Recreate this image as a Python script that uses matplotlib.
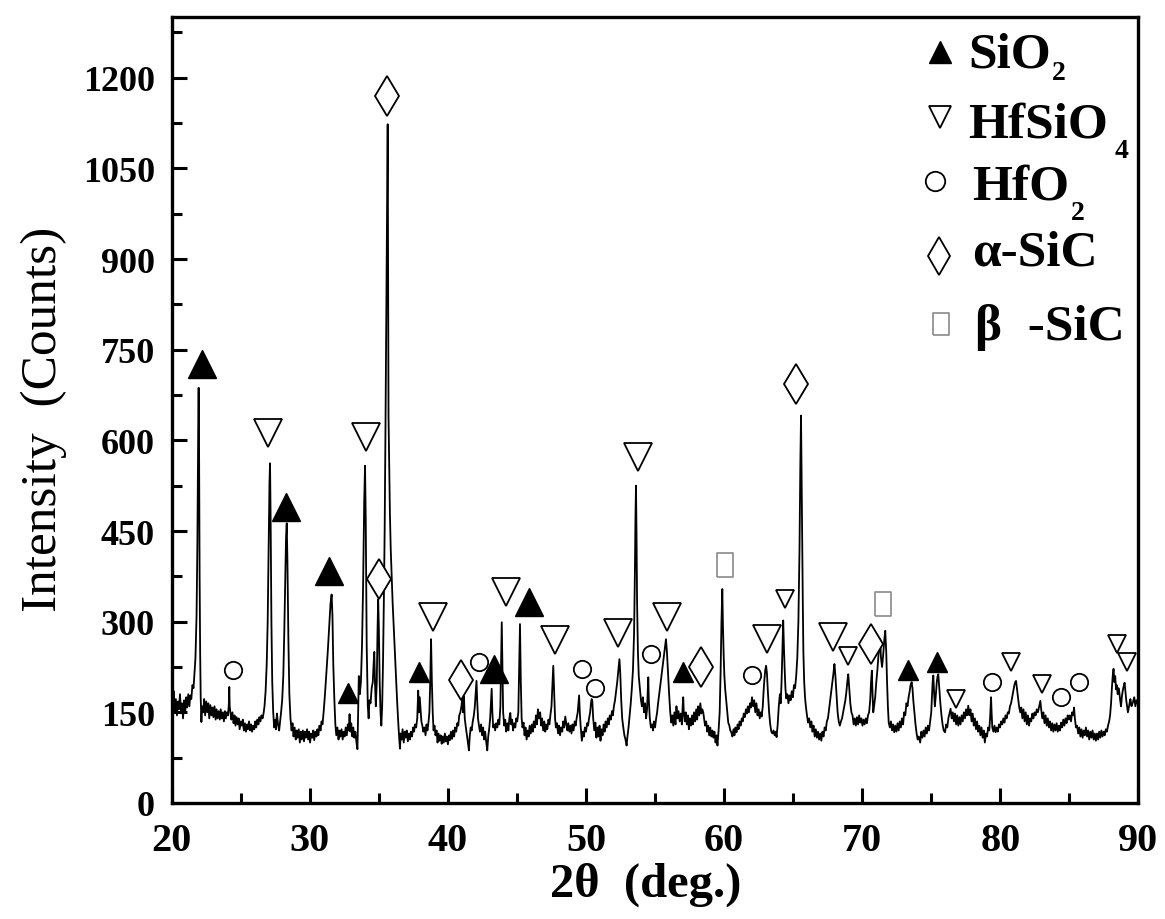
import matplotlib
matplotlib.use("Agg")
import matplotlib.pyplot as plt
from matplotlib.ticker import MultipleLocator

# XRD scan (2theta in deg., intensity in counts)
two_theta = [
    20.00, 20.08, 20.15, 20.22, 20.30, 20.38, 20.45, 20.52, 20.60, 20.68, 20.75, 20.82, 20.90, 20.98,
    21.05, 21.12, 21.20, 21.28, 21.35, 21.42, 21.50, 21.58, 21.65, 21.72, 21.80, 21.86, 21.92, 21.95, 21.98, 22.02, 22.06, 22.10, 22.15,
    22.20, 22.28, 22.35, 22.42, 22.50, 22.58, 22.65, 22.72, 22.80, 22.88, 22.95, 23.02, 23.10, 23.18, 23.25, 23.32, 23.40, 23.48, 23.55, 23.62, 23.70, 23.78, 23.85, 23.92, 24.00, 24.08, 24.14, 24.17, 24.20, 24.26,
    24.32, 24.40, 24.48, 24.55, 24.62, 24.70, 24.78, 24.85, 24.92, 25.00, 25.08, 25.15, 25.22, 25.30, 25.38, 25.45, 25.52, 25.60, 25.68, 25.75, 25.82, 25.90, 25.98, 26.05, 26.12, 26.20, 26.28, 26.35, 26.42, 26.50, 26.58, 26.65, 26.72,
    26.80, 26.88, 26.95, 27.02, 27.08, 27.12, 27.16, 27.22, 27.28, 27.35, 27.42, 27.50, 27.55, 27.62, 27.70, 27.78, 27.85, 27.92, 28.00,
    28.08, 28.15, 28.22, 28.28, 28.33, 28.38, 28.45, 28.52, 28.60, 28.68, 28.75, 28.82, 28.90, 28.98, 29.05, 29.12, 29.20, 29.28, 29.35, 29.42, 29.50, 29.58, 29.65, 29.72, 29.80, 29.88, 29.95, 30.02,
    30.10, 30.18, 30.25, 30.32, 30.40, 30.48, 30.55, 30.62, 30.70, 30.78, 30.85, 30.92, 31.00, 31.10, 31.20, 31.30, 31.40, 31.50, 31.58, 31.64, 31.70, 31.78, 31.85, 31.92,
    32.00, 32.08, 32.15, 32.22, 32.30, 32.38, 32.45, 32.52, 32.60, 32.68, 32.75, 32.82, 32.88, 32.94, 33.00, 33.08, 33.15, 33.22, 33.30, 33.38, 33.45, 33.50,
    33.55, 33.62, 33.70, 33.78, 33.86, 33.94, 34.00, 34.05, 34.12, 34.20, 34.26, 34.32, 34.40, 34.48, 34.56, 34.62, 34.67, 34.72, 34.78, 34.85, 34.90, 34.95, 35.00, 35.06, 35.12, 35.18,
    35.24, 35.30, 35.36, 35.42, 35.48, 35.54, 35.60, 35.64, 35.67, 35.70, 35.74, 35.80, 35.86, 35.92, 36.00, 36.08, 36.16, 36.24, 36.32, 36.40, 36.48, 36.53,
    36.58, 36.65, 36.72, 36.80, 36.88, 36.95, 37.02, 37.10, 37.18, 37.25, 37.32, 37.40, 37.48, 37.55, 37.62, 37.70, 37.78, 37.85, 37.90, 37.96, 38.02, 38.08,
    38.15, 38.22, 38.30, 38.38, 38.45, 38.52, 38.60, 38.66, 38.72, 38.78, 38.84, 38.90, 38.96, 39.03, 39.10, 39.18, 39.25, 39.32, 39.40, 39.48, 39.55, 39.62, 39.70, 39.78, 39.85, 39.92, 40.00,
    40.08, 40.15, 40.22, 40.30, 40.38, 40.45, 40.52, 40.60, 40.68, 40.75, 40.82, 40.90, 40.98, 41.04, 41.10, 41.16, 41.22, 41.30, 41.38, 41.45, 41.52,
    41.58, 41.65, 41.72, 41.80, 41.88, 41.95, 42.02, 42.07, 42.12, 42.18, 42.25, 42.32, 42.40, 42.48, 42.55, 42.62, 42.70, 42.78, 42.85, 42.92, 43.00,
    43.06, 43.12, 43.17, 43.22, 43.28, 43.35, 43.42, 43.50, 43.58, 43.65, 43.72, 43.80, 43.85, 43.90, 43.95, 44.00, 44.08, 44.15, 44.22, 44.30, 44.38, 44.45, 44.52, 44.58,
    44.65, 44.72, 44.80, 44.88, 44.95, 45.02, 45.10, 45.16, 45.22, 45.28, 45.34, 45.40, 45.48, 45.55, 45.62, 45.70, 45.78, 45.85, 45.92, 46.00,
    46.08, 46.15, 46.22, 46.30, 46.38, 46.45, 46.52, 46.60, 46.68, 46.75, 46.82, 46.90, 46.98, 47.05, 47.12, 47.20, 47.28, 47.35, 47.42, 47.50,
    47.56, 47.63, 47.70, 47.76, 47.82, 47.90, 47.98, 48.05, 48.12, 48.20, 48.28, 48.35, 48.42, 48.50, 48.58, 48.65, 48.72, 48.80, 48.88, 48.95, 49.02,
    49.10, 49.18, 49.25, 49.32, 49.40, 49.45, 49.50, 49.55, 49.62, 49.70, 49.78, 49.85, 49.92, 50.00, 50.08, 50.15, 50.22, 50.30, 50.36, 50.41, 50.46, 50.52, 50.60,
    50.68, 50.75, 50.82, 50.90, 50.98, 51.05, 51.12, 51.20, 51.28, 51.35, 51.42, 51.50, 51.58, 51.65, 51.72, 51.80, 51.88, 51.95, 52.02,
    52.10, 52.18, 52.26, 52.34, 52.42, 52.48, 52.55, 52.62, 52.70, 52.78, 52.86, 52.94, 53.00, 53.08, 53.16, 53.24, 53.32, 53.40, 53.48,
    53.54, 53.58, 53.62, 53.66, 53.70, 53.76, 53.82, 53.90, 53.98, 54.05, 54.12, 54.20, 54.28, 54.35, 54.42, 54.47, 54.51, 54.55, 54.62, 54.70, 54.78, 54.85, 54.92, 55.00,
    55.08, 55.15, 55.22, 55.30, 55.38, 55.46, 55.54, 55.62, 55.70, 55.79, 55.86, 55.94, 56.02, 56.10, 56.18, 56.25, 56.32, 56.40, 56.48, 56.55, 56.62, 56.70, 56.78, 56.86, 56.94,
    57.00, 57.04, 57.08, 57.15, 57.22, 57.30, 57.38, 57.45, 57.52, 57.60, 57.68, 57.75, 57.82, 57.90, 57.98, 58.05, 58.12, 58.20, 58.28, 58.35, 58.42, 58.49,
    58.55, 58.62, 58.70, 58.78, 58.85, 58.92, 59.00, 59.08, 59.15, 59.22, 59.30, 59.38, 59.45, 59.52, 59.60, 59.68, 59.75, 59.81, 59.87, 59.92, 59.97, 60.02,
    60.08, 60.15, 60.22, 60.30, 60.38, 60.45, 60.52, 60.60, 60.68, 60.75, 60.82, 60.90, 60.98, 61.05, 61.12, 61.20, 61.28, 61.35, 61.42, 61.50, 61.58,
    61.65, 61.72, 61.80, 61.88, 61.95, 62.02, 62.10, 62.18, 62.26, 62.34, 62.42, 62.50, 62.58, 62.66, 62.72, 62.80, 62.86, 62.92, 62.98, 63.04, 63.10,
    63.18, 63.26, 63.34, 63.42, 63.50, 63.58, 63.66, 63.74, 63.80, 63.88, 63.96, 64.04, 64.10, 64.16, 64.22, 64.28, 64.33, 64.38, 64.44, 64.50,
    64.58, 64.66, 64.74, 64.82, 64.90, 64.98, 65.06, 65.14, 65.22, 65.30, 65.38, 65.46, 65.52, 65.57, 65.62, 65.66, 65.70, 65.74, 65.80, 65.86, 65.92, 66.00,
    66.08, 66.16, 66.24, 66.32, 66.40, 66.48, 66.56, 66.64, 66.72, 66.80, 66.88, 66.96, 67.04, 67.12, 67.20, 67.28, 67.36, 67.44,
    67.52, 67.60, 67.68, 67.76, 67.84, 67.92, 67.99, 68.06, 68.14, 68.22, 68.30, 68.38, 68.46, 68.54, 68.62, 68.70, 68.78, 68.86, 68.92, 68.99,
    69.06, 69.14, 69.22, 69.30, 69.38, 69.46, 69.54, 69.62, 69.70, 69.78, 69.86, 69.94, 70.02, 70.10, 70.18, 70.26, 70.34, 70.42, 70.50,
    70.58, 70.64, 70.70, 70.75, 70.80, 70.86, 70.94, 71.02, 71.10, 71.18, 71.26, 71.30, 71.36, 71.44, 71.52, 71.60, 71.67, 71.74, 71.80, 71.86, 71.92, 72.00,
    72.08, 72.16, 72.24, 72.32, 72.40, 72.48, 72.56, 72.64, 72.72, 72.80, 72.88, 72.96, 73.04, 73.12, 73.20, 73.28, 73.36, 73.44, 73.50,
    73.58, 73.64, 73.70, 73.78, 73.86, 73.94, 74.02, 74.10, 74.20, 74.28, 74.36, 74.44, 74.52, 74.60, 74.68, 74.76, 74.84, 74.92, 75.00,
    75.06, 75.10, 75.15, 75.20, 75.26, 75.32, 75.40, 75.46, 75.51, 75.58, 75.66, 75.74, 75.82, 75.90, 76.00, 76.08, 76.16, 76.24, 76.32, 76.40, 76.48,
    76.56, 76.64, 76.72, 76.80, 76.88, 76.96, 77.04, 77.12, 77.20, 77.28, 77.36, 77.44, 77.52, 77.60, 77.68, 77.76, 77.84, 77.92, 78.00,
    78.08, 78.16, 78.24, 78.32, 78.40, 78.48, 78.56, 78.64, 78.72, 78.80, 78.88, 78.96, 79.04, 79.12, 79.20, 79.26, 79.30, 79.33, 79.37, 79.42, 79.50,
    79.58, 79.66, 79.74, 79.82, 79.90, 79.98, 80.06, 80.14, 80.22, 80.30, 80.38, 80.46, 80.54, 80.62, 80.70, 80.78, 80.86, 80.94, 81.02,
    81.08, 81.14, 81.20, 81.28, 81.36, 81.44, 81.52, 81.60, 81.68, 81.76, 81.84, 81.92, 82.00, 82.08, 82.16, 82.24, 82.32, 82.40, 82.48,
    82.56, 82.64, 82.72, 82.80, 82.86, 82.90, 82.96, 83.04, 83.12, 83.20, 83.28, 83.36, 83.44, 83.52, 83.60, 83.68, 83.76, 83.84, 83.92, 84.00,
    84.08, 84.16, 84.24, 84.32, 84.40, 84.48, 84.56, 84.64, 84.72, 84.80, 84.88, 84.96, 85.04, 85.12, 85.20, 85.28, 85.34, 85.40, 85.48,
    85.56, 85.64, 85.72, 85.80, 85.88, 85.96, 86.04, 86.12, 86.20, 86.28, 86.36, 86.44, 86.52, 86.60, 86.68, 86.76, 86.84, 86.92, 87.00,
    87.08, 87.16, 87.24, 87.32, 87.40, 87.48, 87.56, 87.64, 87.72, 87.80, 87.88, 87.95, 88.02, 88.08, 88.14, 88.20, 88.26, 88.32, 88.38, 88.44,
    88.50, 88.56, 88.62, 88.68, 88.74, 88.80, 88.86, 88.92, 89.00, 89.06, 89.12, 89.18, 89.24, 89.30, 89.36, 89.42, 89.50, 89.58, 89.63, 89.70, 89.78, 89.86, 89.94, 90.00,
]
counts = [
    178, 160, 185, 150, 172, 145, 168, 155, 180, 150, 165, 140, 170, 152,
    175, 158, 180, 160, 178, 172, 195, 190, 215, 240, 310, 430, 620, 687, 600, 380, 250, 175, 134,
    160, 150, 172, 145, 168, 150, 165, 140, 162, 145, 158, 142, 160, 138, 155, 140, 152, 138, 155, 140, 150, 135, 152, 140, 150, 145, 165, 192, 160, 148,
    138, 150, 132, 145, 128, 142, 130, 140, 122, 135, 128, 138, 120, 132, 118, 130, 122, 135, 120, 130, 118, 128, 122, 135, 125, 138, 130, 142, 135, 145, 140, 148, 160,
    185, 230, 300, 420, 530, 562, 480, 300, 200, 150, 125, 138, 122, 148, 130, 120, 135, 150, 170,
    210, 280, 370, 440, 463, 400, 270, 180, 140, 120, 132, 110, 125, 105, 120, 108, 122, 100, 118, 105, 120, 102, 118, 108, 122, 105, 118, 100,
    115, 108, 120, 104, 118, 110, 122, 112, 128, 120, 135, 130, 150, 180, 215, 250, 290, 330, 345, 310, 230, 170, 130, 112,
    125, 105, 120, 110, 122, 105, 118, 110, 125, 112, 130, 120, 147, 118, 132, 110, 125, 108, 118, 100, 89, 150,
    210, 180, 200, 260, 360, 500, 558, 470, 260, 160, 140, 170, 165, 190, 200, 230, 250, 200, 160, 200, 280, 337, 290, 200, 150, 128,
    160, 230, 330, 450, 620, 820, 1000, 1123, 900, 640, 580, 480, 420, 380, 330, 290, 250, 210, 170, 135, 105, 90,
    115, 105, 122, 100, 118, 108, 120, 102, 115, 105, 118, 110, 125, 118, 130, 125, 140, 186, 150, 175, 154, 135,
    128, 118, 125, 112, 130, 120, 135, 150, 200, 271, 200, 150, 120, 128, 112, 120, 100, 115, 103, 112, 98, 110, 100, 115, 102, 110, 97,
    112, 104, 118, 106, 120, 110, 125, 118, 132, 128, 145, 150, 160, 172, 150, 177, 140, 125, 112, 100, 87,
    110, 125, 120, 135, 145, 160, 185, 202, 170, 140, 128, 118, 130, 112, 125, 105, 118, 100, 87, 110, 125,
    140, 165, 189, 150, 125, 130, 120, 132, 125, 138, 130, 160, 230, 299, 220, 150, 128, 138, 118, 132, 120, 140, 149, 130,
    138, 120, 132, 125, 140, 135, 150, 220, 296, 200, 140, 125, 133, 112, 125, 105, 120, 110, 128, 115,
    130, 118, 135, 125, 145, 130, 155, 140, 150, 128, 140, 120, 135, 118, 130, 122, 138, 130, 145, 160,
    190, 227, 180, 140, 125, 132, 115, 128, 112, 125, 118, 135, 125, 143, 130, 120, 132, 118, 128, 115, 130,
    120, 135, 128, 140, 150, 165, 178, 150, 125, 103, 118, 110, 125, 118, 132, 128, 140, 150, 165, 172, 168, 140, 120,
    133, 108, 125, 110, 128, 103, 122, 112, 130, 118, 135, 125, 140, 130, 145, 138, 152, 145, 160,
    170, 185, 200, 220, 238, 215, 170, 140, 125, 112, 105, 95, 110, 125, 145, 165, 190, 220, 280,
    380, 470, 525, 440, 330, 250, 210, 190, 170, 160, 175, 150, 165, 140, 155, 185, 208, 170, 140, 125, 130, 120, 135, 125,
    140, 150, 165, 180, 195, 210, 225, 240, 255, 271, 250, 215, 180, 150, 133, 145, 128, 150, 130, 160, 140, 152, 135, 148, 130,
    160, 175, 150, 135, 150, 130, 145, 122, 140, 128, 145, 130, 150, 135, 155, 138, 160, 145, 165, 148, 155, 150,
    140, 128, 135, 118, 128, 112, 125, 110, 120, 108, 118, 100, 112, 95, 120, 150, 220, 300, 354, 290, 244, 210,
    188, 170, 150, 133, 128, 120, 117, 110, 122, 112, 125, 117, 130, 122, 135, 128, 140, 135, 148, 142, 155,
    148, 160, 150, 165, 158, 175, 160, 170, 150, 165, 145, 155, 140, 150, 143, 160, 185, 205, 220, 227, 215,
    180, 150, 130, 118, 115, 120, 112, 118, 109, 130, 160, 180, 165, 200, 250, 302, 260, 225, 190, 173,
    180, 165, 178, 170, 185, 175, 195, 190, 210, 240, 300, 420, 560, 641, 520, 420, 330, 250, 200, 175, 160, 145,
    133, 140, 125, 135, 118, 128, 110, 122, 108, 118, 105, 115, 103, 118, 110, 125, 120, 135,
    140, 155, 170, 185, 200, 215, 230, 210, 180, 150, 135, 128, 135, 140, 150, 160, 170, 185, 200, 213,
    190, 165, 150, 145, 130, 140, 128, 142, 130, 145, 133, 140, 128, 138, 130, 140, 132, 145, 150,
    170, 200, 219, 180, 150, 160, 175, 200, 220, 245, 260, 271, 240, 225, 245, 270, 285, 250, 200, 160, 133, 125,
    135, 120, 130, 117, 128, 118, 132, 120, 135, 125, 140, 130, 150, 145, 165, 160, 175, 185, 195,
    200, 190, 170, 150, 130, 115, 105, 110, 100, 118, 108, 120, 110, 125, 115, 128, 120, 135, 150,
    180, 200, 211, 185, 160, 175, 200, 210, 213, 190, 165, 145, 130, 120, 117, 130, 125, 140, 148, 156, 140,
    150, 135, 148, 130, 145, 128, 142, 130, 145, 135, 150, 140, 155, 145, 161, 145, 155, 135, 148,
    128, 140, 122, 135, 118, 128, 112, 125, 108, 120, 100, 115, 110, 125, 120, 140, 160, 175, 150, 125, 118,
    128, 117, 125, 118, 130, 125, 135, 130, 140, 133, 145, 140, 150, 148, 160, 165, 175, 185, 195,
    200, 202, 190, 175, 160, 150, 158, 140, 155, 135, 150, 130, 145, 128, 140, 135, 148, 140, 150,
    145, 155, 150, 158, 165, 169, 155, 140, 150, 132, 145, 128, 140, 125, 135, 120, 132, 118, 130, 120,
    132, 118, 128, 120, 133, 125, 138, 128, 140, 132, 145, 138, 145, 135, 150, 145, 158, 140, 125,
    128, 115, 125, 110, 122, 108, 120, 112, 125, 110, 120, 105, 118, 108, 120, 105, 115, 103, 115,
    105, 118, 108, 120, 110, 118, 112, 122, 118, 128, 135, 145, 165, 190, 210, 222, 200, 210, 188, 195,
    180, 190, 183, 170, 160, 175, 185, 192, 199, 185, 170, 160, 150, 158, 165, 172, 160, 165, 169, 175, 160, 170, 165, 175,
]
assert len(two_theta) == len(counts)

# phase markers (2theta, height of symbol)
sio2_big_x = [22.2, 28.3, 31.4, 43.36, 45.9]
sio2_big_y = [726, 489, 384, 222, 332]
sio2_small_x = [32.8, 37.9, 57.05, 73.34, 75.44]
sio2_small_y = [182, 216, 216, 220, 233]
hfsio4_big_x = [27.0, 34.07, 38.9, 44.2, 47.76, 52.34, 53.79, 55.89, 63.08, 67.86]
hfsio4_big_y = [613, 605, 308, 349, 269, 282, 572, 307, 271, 274]
hfsio4_small_x = [64.41, 69.0, 76.8, 80.75, 83.04, 88.47, 89.15]
hfsio4_small_y = [338, 244, 172, 234, 197, 263, 233]
hfo2_x = [24.46, 42.27, 49.7, 50.65, 54.69, 62.0, 79.38, 84.4, 85.7]
hfo2_y = [220, 233, 222, 191, 246, 211, 201, 175, 200]
asic_x = [35.57, 35.0, 40.95, 58.3, 65.2, 70.64]
asic_y = [1170, 371, 204, 225, 693, 263]
bsic_x = [60.07, 71.53]
bsic_y = [393, 329]

legend_labels = ["SiO", "HfSiO", "HfO", "\u03b1-SiC", "\u03b2  -SiC"]
legend_subs = ["2", "4", "2", "", ""]

plt.rcParams["font.family"] = ["Liberation Serif", "DejaVu Serif"]
plt.rcParams["font.weight"] = "bold"

W, H = 1165, 920
fig = plt.figure(figsize=(W / 100, H / 100), dpi=100)
left, right, bottom = 171.7, 1138.4, 804.0
ytop = 1300
ax = fig.add_axes([left / W, 1 - bottom / H, (right - left) / W, ytop * 0.6044 / H])


def fpos(px, py):
    return px / W, 1 - py / H


rect = [(-0.35, -0.5), (0.35, -0.5), (0.35, 0.5), (-0.35, 0.5), (-0.35, -0.5)]

ax.plot(two_theta, counts, color="black", lw=1.3)

tri_kw = dict(ls="none", marker="^", color="black", clip_on=False)
open_kw = dict(ls="none", mfc="white", mec="black", mew=1.3, clip_on=False)
ax.plot(sio2_big_x, sio2_big_y, ms=19.5, **tri_kw)
ax.plot(sio2_small_x, sio2_small_y, ms=14.5, **tri_kw)
ax.plot(hfsio4_big_x, hfsio4_big_y, marker="v", ms=19.5, **open_kw)
ax.plot(hfsio4_small_x, hfsio4_small_y, marker="v", ms=12.5, **open_kw)
ax.plot(hfo2_x, hfo2_y, marker="o", ms=12.5, **open_kw)
ax.plot(asic_x, asic_y, marker="d", ms=20, **open_kw)
ax.plot(bsic_x, bsic_y, ls="none", marker=rect, ms=17, mfc="white", mec="#8a8a8a", mew=1.2)

ax.set_xlim(20, 90)
ax.set_ylim(0, ytop)
ax.xaxis.set_major_locator(MultipleLocator(10))
ax.xaxis.set_minor_locator(MultipleLocator(5))
ax.yaxis.set_major_locator(MultipleLocator(150))
ax.yaxis.set_minor_locator(MultipleLocator(75))
ax.tick_params(which="both", direction="in", top=False, right=False, width=2.2)
ax.tick_params(which="major", length=11)
ax.tick_params(which="minor", length=7)
ax.tick_params(axis="y", pad=12, labelsize=26)
ax.tick_params(axis="x", pad=14, labelsize=29)
for s in ax.spines.values():
    s.set_linewidth(2.4)

ax.set_xlabel("2\u03b8  (deg.)", fontsize=35, weight="bold")
ax.xaxis.set_label_coords(0.49, -0.075)
ax.set_ylabel("Intensity  (Counts)", fontsize=37, weight="normal")
ax.yaxis.set_label_coords(-0.108, 0.49)

# legend drawn by hand
marker_pos = [(940, 53), (940, 118), (935, 182), (939, 257), (941, 325)]
text_pos = [(968, 67), (968, 137), (972, 200), (972, 266), (975, 340)]
sub_pos = [(1052, 80), (1115, 158), (1071, 220), None, None]
mk = [
    dict(marker="^", ms=16, mfc="black", mec="black"),
    dict(marker="v", ms=16, mfc="white", mec="black", mew=1.3),
    dict(marker="o", ms=14, mfc="white", mec="black", mew=1.3),
    dict(marker="d", ms=19, mfc="white", mec="black", mew=1.3),
    dict(marker=rect, ms=16, mfc="white", mec="#8a8a8a", mew=1.2),
]
for lab, sub, mp, tp, sp, kw in zip(legend_labels, legend_subs, marker_pos, text_pos, sub_pos, mk):
    fx, fy = fpos(*mp)
    ax.plot([fx], [fy], ls="none", transform=fig.transFigure, clip_on=False, **kw)
    fig.text(*fpos(*tp), lab, fontsize=37, va="baseline")
    if sub:
        fig.text(*fpos(*sp), sub, fontsize=20, va="baseline")

fig.savefig("out.png", dpi=100)
